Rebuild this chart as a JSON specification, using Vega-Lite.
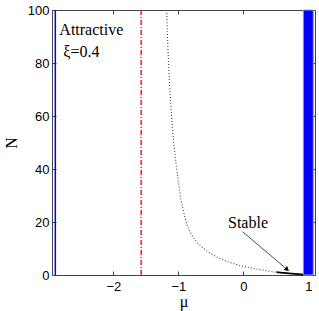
{
  "$schema": "https://vega.github.io/schema/vega-lite/v6.json",
  "width": 263,
  "height": 265,
  "autosize": "none",
  "padding": {"left": 52, "top": 10, "right": 4, "bottom": 36},
  "background": "white",
  "config": {
    "view": {"stroke": null},
    "axis": {
      "grid": false,
      "domainColor": "#444",
      "tickColor": "#444",
      "domainWidth": 1,
      "tickWidth": 1,
      "tickSize": -4,
      "labelFont": "Liberation Sans",
      "labelFontSize": 13,
      "labelColor": "#000",
      "titleFont": "Liberation Serif",
      "titleFontSize": 16,
      "titleFontWeight": "normal",
      "titleColor": "#000"
    }
  },
  "datasets": {
    "region": [{"mu1": 0.923, "mu2": 1.077, "n1": 0, "n2": 100}],
    "leftline": [{"mu": -2.892, "n1": 0, "n2": 100}],
    "redline": [{"mu": -1.571, "n1": 0, "n2": 100}],
    "curve": [
      {"mu": -1.18, "N": 100},
      {"mu": -1.15, "N": 80},
      {"mu": -1.12, "N": 66},
      {"mu": -1.09, "N": 55.5},
      {"mu": -1.06, "N": 47.5},
      {"mu": -1.03, "N": 41},
      {"mu": -1.00, "N": 35.5},
      {"mu": -0.96, "N": 28.5},
      {"mu": -0.92, "N": 24},
      {"mu": -0.87, "N": 19.2},
      {"mu": -0.81, "N": 15.8},
      {"mu": -0.74, "N": 13.2},
      {"mu": -0.65, "N": 10.9},
      {"mu": -0.55, "N": 8.9},
      {"mu": -0.43, "N": 7.1},
      {"mu": -0.30, "N": 5.6},
      {"mu": -0.15, "N": 4.3},
      {"mu": 0.0, "N": 3.3},
      {"mu": 0.13, "N": 2.6},
      {"mu": 0.26, "N": 2.0},
      {"mu": 0.38, "N": 1.5},
      {"mu": 0.51, "N": 1.05}
    ],
    "stable": [
      {"mu": 0.51, "N": 1.1},
      {"mu": 0.7, "N": 0.6},
      {"mu": 0.92, "N": 0.15}
    ],
    "arrow": [{"mu1": -0.01, "n1": 16.3, "mu2": 0.66, "n2": 2.4}],
    "head": [{"mu": 0.675, "N": 2.1}],
    "labels": [
      {"mu": -2.83, "N": 90.6, "label": "Attractive"},
      {"mu": -2.77, "N": 82.4, "label": "ξ=0.4"},
      {"mu": -0.235, "N": 17.6, "label": "Stable"}
    ]
  },
  "layer": [
    {
      "data": {"name": "region"},
      "mark": {"type": "rect", "fill": "#0000ff", "stroke": "#9a9ad8", "strokeWidth": 1},
      "encoding": {
        "x": {"field": "mu1", "type": "quantitative", "scale": {"domain": [-2.943, 1.103], "nice": false, "zero": false},
              "axis": {"orient": "bottom", "values": [-2, -1, 0, 1], "title": "μ", "labelPadding": 9, "titlePadding": 0}},
        "x2": {"field": "mu2"},
        "y": {"field": "n1", "type": "quantitative", "scale": {"domain": [0, 100], "nice": false, "zero": false},
              "axis": {"orient": "left", "values": [0, 20, 40, 60, 80, 100], "title": "N", "labelPadding": 7, "titlePadding": 8}},
        "y2": {"field": "n2"}
      }
    },
    {
      "data": {"name": "leftline"},
      "mark": {"type": "rule", "color": "#0000ff", "strokeWidth": 1.5},
      "encoding": {
        "x": {"field": "mu", "type": "quantitative", "scale": {"domain": [-2.943, 1.103], "nice": false, "zero": false},
              "axis": {"orient": "top", "values": [-2, -1, 0, 1], "labels": false, "title": null}},
        "y": {"field": "n1", "type": "quantitative", "scale": {"domain": [0, 100], "nice": false, "zero": false},
              "axis": {"orient": "right", "values": [0, 20, 40, 60, 80, 100], "labels": false, "title": null}},
        "y2": {"field": "n2"}
      }
    },
    {
      "data": {"name": "redline"},
      "mark": {"type": "rule", "color": "#ff1a1a", "strokeWidth": 1.5, "strokeDash": [5, 2, 1, 2]},
      "encoding": {
        "x": {"field": "mu", "type": "quantitative", "scale": {"domain": [-2.943, 1.103], "nice": false, "zero": false}, "axis": null},
        "y": {"field": "n1", "type": "quantitative", "scale": {"domain": [0, 100], "nice": false, "zero": false}, "axis": null},
        "y2": {"field": "n2"}
      }
    },
    {
      "data": {"name": "curve"},
      "mark": {"type": "line", "color": "#444", "strokeWidth": 1.1, "strokeDash": [1, 2], "interpolate": "monotone"},
      "encoding": {
        "x": {"field": "mu", "type": "quantitative", "scale": {"domain": [-2.943, 1.103], "nice": false, "zero": false}, "axis": null},
        "y": {"field": "N", "type": "quantitative", "scale": {"domain": [0, 100], "nice": false, "zero": false}, "axis": null}
      }
    },
    {
      "data": {"name": "stable"},
      "mark": {"type": "line", "color": "#000", "strokeWidth": 1.8, "interpolate": "monotone"},
      "encoding": {
        "x": {"field": "mu", "type": "quantitative", "scale": {"domain": [-2.943, 1.103], "nice": false, "zero": false}, "axis": null},
        "y": {"field": "N", "type": "quantitative", "scale": {"domain": [0, 100], "nice": false, "zero": false}, "axis": null}
      }
    },
    {
      "data": {"name": "arrow"},
      "mark": {"type": "rule", "color": "#222", "strokeWidth": 0.8},
      "encoding": {
        "x": {"field": "mu1", "type": "quantitative", "scale": {"domain": [-2.943, 1.103], "nice": false, "zero": false}, "axis": null},
        "y": {"field": "n1", "type": "quantitative", "scale": {"domain": [0, 100], "nice": false, "zero": false}, "axis": null},
        "x2": {"field": "mu2"},
        "y2": {"field": "n2"}
      }
    },
    {
      "data": {"name": "head"},
      "mark": {"type": "point", "shape": "triangle-up", "filled": true, "color": "#000", "opacity": 1, "size": 28, "angle": 130},
      "encoding": {
        "x": {"field": "mu", "type": "quantitative", "scale": {"domain": [-2.943, 1.103], "nice": false, "zero": false}, "axis": null},
        "y": {"field": "N", "type": "quantitative", "scale": {"domain": [0, 100], "nice": false, "zero": false}, "axis": null}
      }
    },
    {
      "data": {"name": "labels"},
      "mark": {"type": "text", "font": "Liberation Serif", "fontSize": 16, "align": "left", "baseline": "alphabetic", "color": "#000"},
      "encoding": {
        "x": {"field": "mu", "type": "quantitative", "scale": {"domain": [-2.943, 1.103], "nice": false, "zero": false}, "axis": null},
        "y": {"field": "N", "type": "quantitative", "scale": {"domain": [0, 100], "nice": false, "zero": false}, "axis": null},
        "text": {"field": "label"}
      }
    }
  ],
  "resolve": {"axis": {"x": "independent", "y": "independent"}}
}
